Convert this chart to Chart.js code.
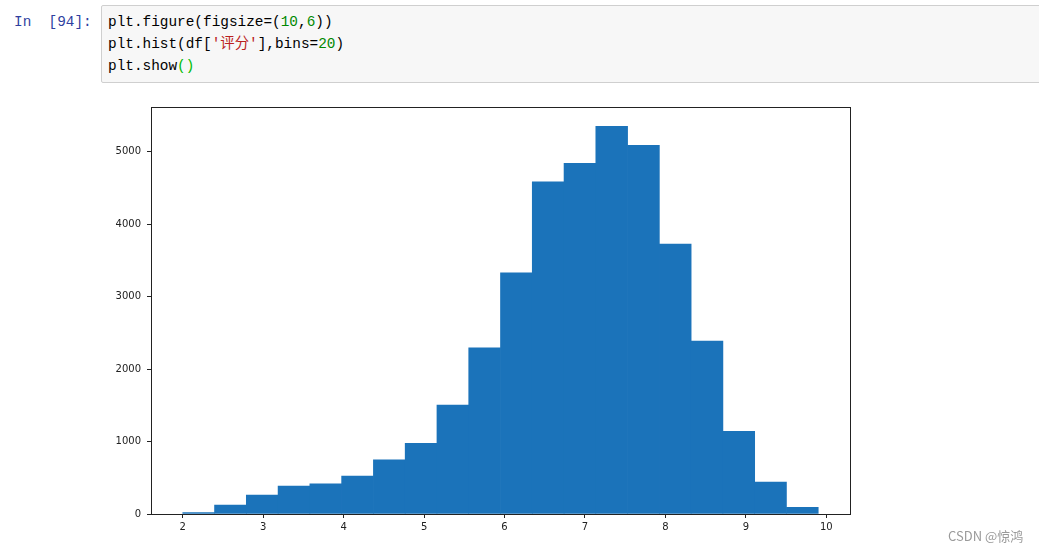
<!DOCTYPE html>
<html>
<head>
<meta charset="utf-8">
<script src="https://cdn.jsdelivr.net/npm/chart.js@4.4.1/dist/chart.umd.min.js"></script>
<style>
  html, body { margin: 0; padding: 0; background: #fff; width: 1039px; height: 551px; overflow: hidden; position: relative; }
  #prompt { position: absolute; left: 14px; top: 11px; font-family: "Liberation Mono", "DejaVu Sans Mono", monospace; font-size: 14.4px; color: #303f9f; line-height: 22px; white-space: pre; }
  #cell { position: absolute; left: 101px; top: 5px; width: 945px; height: 78px; background: #f7f7f7; border: 1px solid #cfcfcf; border-radius: 2px; box-sizing: border-box; }
  #cell pre { margin: 0; position: absolute; left: 6px; top: 5px; font-family: "Liberation Mono", "Noto Sans CJK SC", monospace; font-size: 14.4px; line-height: 22px; color: #000; }
  .n { color: #080; }
  .s { color: #ba2121; }
  .b { color: #0b0; }
  #wrap { position: absolute; left: 0; top: 95px; width: 1039px; height: 456px; }
  #wm { position: absolute; left: 948px; top: 526px; font-family: "Noto Sans CJK SC", "DejaVu Sans", sans-serif; font-size: 13px; color: #9a9a9a; }
</style>
</head>
<body>
<div id="prompt">In  [94]:</div>
<div id="cell"><pre>plt.figure(figsize=(<span class="n">10</span>,<span class="n">6</span>))
plt.hist(df[<span class="s">'评分'</span>],bins=<span class="n">20</span>)
plt.show<span class="b">()</span></pre></div>
<div id="wrap"><canvas id="c"></canvas></div>
<div id="wm">CSDN @惊鸿</div>
<script>
// histogram bin edges (rating 评分), 20 bins
const binEdges = [2.000, 2.395, 2.790, 3.185, 3.580, 3.975, 4.370, 4.765, 5.160, 5.555, 5.950,
                  6.345, 6.740, 7.135, 7.530, 7.925, 8.320, 8.715, 9.110, 9.505, 9.900];
// counts per bin
const counts = [20, 122, 260, 385, 416, 522, 746, 975, 1502, 2294,
                3329, 4584, 4840, 5350, 5087, 3727, 2386, 1140, 440, 92];
const xTicks = [2, 3, 4, 5, 6, 7, 8, 9, 10];
const yTicks = [0, 1000, 2000, 3000, 4000, 5000];

const points = counts.map((c, i) => ({ x: (binEdges[i] + binEdges[i + 1]) / 2, y: c }));
const xRange = binEdges[binEdges.length - 1] - binEdges[0];
const xMin = binEdges[0] - 0.05 * xRange;
const xMax = binEdges[binEdges.length - 1] + 0.05 * xRange;
const yMax = Math.max(...counts) * 1.05;

const frame = {
  id: 'frame',
  afterDraw(chart) {
    const a = chart.chartArea, ctx = chart.ctx;
    ctx.save();
    ctx.strokeStyle = '#222';
    ctx.lineWidth = 1;
    ctx.strokeRect(Math.round(a.left) + 0.5, Math.round(a.top) + 0.5, Math.round(a.right - a.left), Math.round(a.bottom - a.top));
    ctx.restore();
  }
};

const tickFont = { family: 'DejaVu Sans', size: 10 };
new Chart(document.getElementById('c'), {
  type: 'bar',
  data: {
    datasets: [{
      data: points,
      backgroundColor: '#1b73ba',
      borderWidth: 0,
      barPercentage: 1.0,
      categoryPercentage: 1.0
    }]
  },
  options: {
    responsive: true,
    maintainAspectRatio: false,
    animation: false,
    layout: { padding: { left: 101, right: 189, top: 11, bottom: 11 } },
    plugins: { legend: { display: false }, tooltip: { enabled: false } },
    scales: {
      x: {
        type: 'linear',
        min: xMin, max: xMax,
        offset: false,
        afterBuildTicks: s => { s.ticks = xTicks.map(v => ({ value: v })); },
        afterFit: s => { s.height = 26; },
        grid: { offset: false, drawOnChartArea: false, drawTicks: true, tickLength: 4, color: '#222' },
        border: { display: false },
        ticks: { font: tickFont, color: '#222', padding: 3, maxRotation: 0, autoSkip: false, callback: v => String(v) }
      },
      y: {
        min: 0, max: yMax,
        afterBuildTicks: s => { s.ticks = yTicks.map(v => ({ value: v })); },
        afterFit: s => { s.width = 50; },
        grid: { offset: false, drawOnChartArea: false, drawTicks: true, tickLength: 4, color: '#222' },
        border: { display: false },
        ticks: { font: tickFont, color: '#222', padding: 6, autoSkip: false, callback: v => String(v) }
      }
    }
  },
  plugins: [frame]
});
</script>
</body>
</html>
